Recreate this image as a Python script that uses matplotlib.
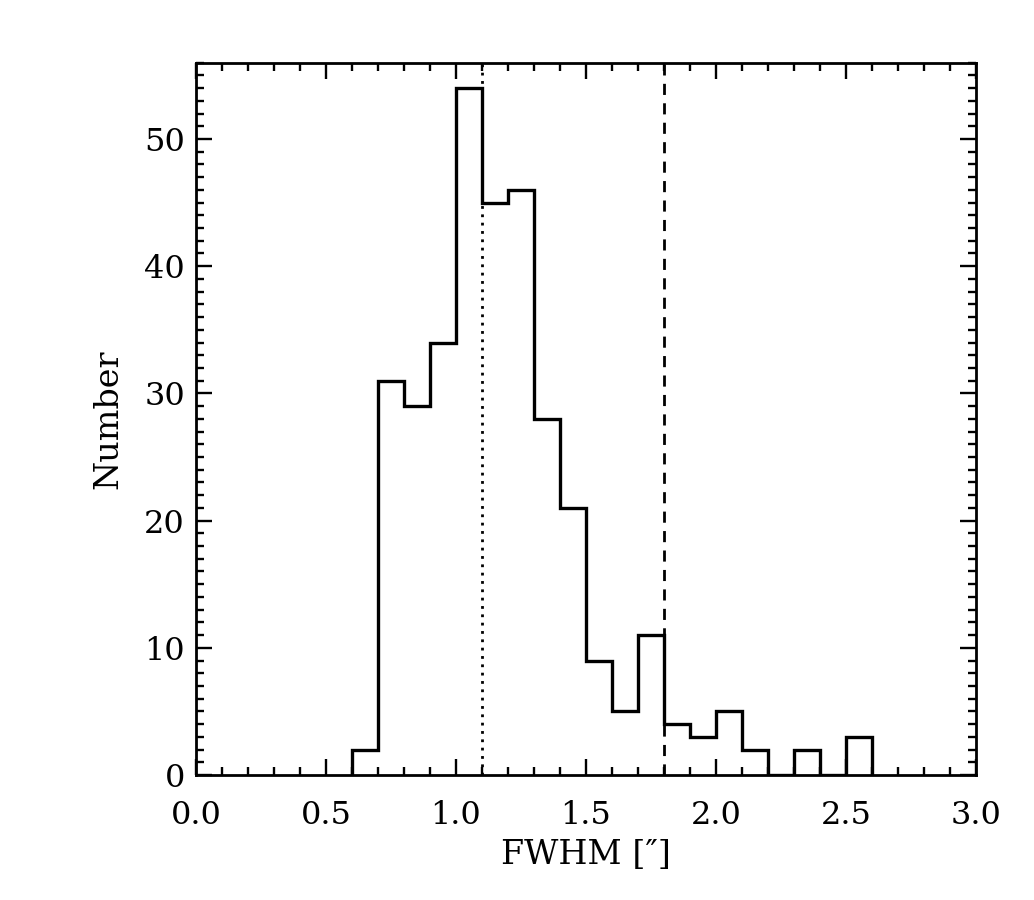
import numpy as np
import matplotlib.pyplot as plt
from matplotlib.ticker import MultipleLocator

# histogram of FWHM values, bins of 0.1 arcsec
bin_edges = [0.6, 0.7, 0.8, 0.9, 1.0, 1.1, 1.2, 1.3, 1.4, 1.5, 1.6,
             1.7, 1.8, 1.9, 2.0, 2.1, 2.2, 2.3, 2.4, 2.5, 2.6]
counts = [2, 31, 29, 34, 54, 45, 46, 28, 21, 9,
          5, 11, 4, 3, 5, 2, 0, 2, 0, 3]

dotted_x = 1.1
dashed_x = 1.8

plt.rcParams['font.family'] = ['DejaVu Serif']

fig = plt.figure(figsize=(10.34, 9), dpi=100)
ax = fig.add_axes([196/1034, 1 - 775/900, (976 - 196)/1034, (775 - 62.7)/900])

ax.stairs(counts, bin_edges, color='black', linewidth=2.4)
ax.axvline(dotted_x, color='black', linestyle=(0, (1, 2)), linewidth=2.0)
ax.axvline(dashed_x, color='black', linestyle=(0, (4, 3)), linewidth=2.0)

ax.set_xlim(0, 3.0)
ax.set_ylim(0, 56)

ax.xaxis.set_major_locator(MultipleLocator(0.5))
ax.xaxis.set_minor_locator(MultipleLocator(0.1))
ax.yaxis.set_major_locator(MultipleLocator(10))
ax.yaxis.set_minor_locator(MultipleLocator(1))
ax.xaxis.set_major_formatter(plt.FormatStrFormatter('%.1f'))

ax.tick_params(which='both', direction='in', top=True, right=True,
               width=1.7, labelsize=23)
ax.tick_params(which='major', length=11.5)
ax.tick_params(which='minor', length=5.5)
ax.tick_params(axis='x', which='major', pad=18)
ax.tick_params(axis='y', which='major', pad=8)
for sp in ax.spines.values():
    sp.set_linewidth(2.0)

ax.set_xlabel("FWHM [″]", fontsize=24, labelpad=6)
ax.set_ylabel("Number", fontsize=24, labelpad=14)

fig.savefig("out.png", dpi=100)
